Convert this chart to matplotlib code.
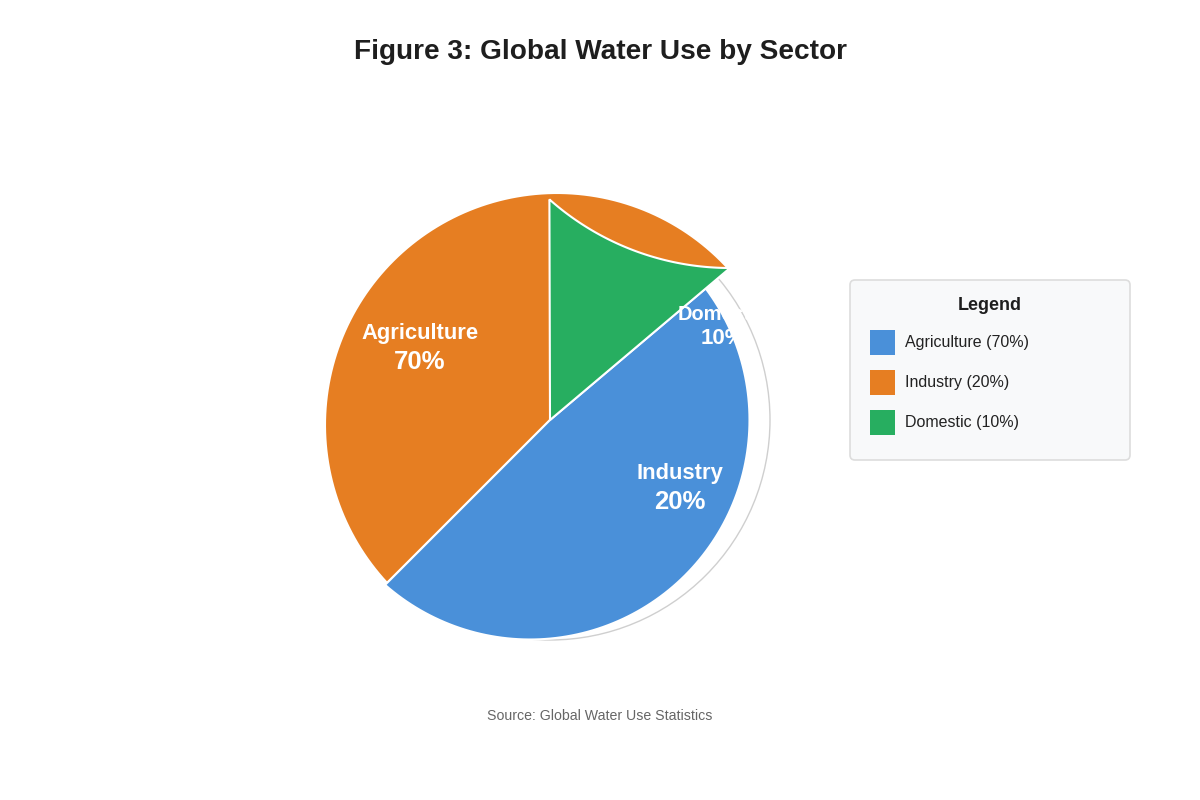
import numpy as np
import matplotlib
matplotlib.use("Agg")
import matplotlib.pyplot as plt
from matplotlib.patches import Polygon, Circle, FancyBboxPatch, Rectangle

plt.rcParams['font.family'] = ['Liberation Sans', 'DejaVu Sans']

# data
sectors = ["Agriculture", "Industry", "Domestic"]
shares = [70, 20, 10]
colors = ["#4a90d9", "#e67e22", "#27ae60"]

title = "Figure 3: Global Water Use by Sector"
source = "Source: Global Water Use Statistics"

# everything below is drawn in pixel space (y grows downwards)
fig = plt.figure(figsize=(12, 8), dpi=100)
ax = fig.add_axes([0, 0, 1, 1])
ax.set_xlim(0, 1200)
ax.set_ylim(800, 0)
ax.axis('off')

cx, cy = 550, 420   # pie centre
edge_ang = 40.2     # direction of the green/blue border


def arc(ox, oy, r, a0, a1, n=120):
    # screen angles in degrees, counter clockwise as seen on screen
    t = np.radians(np.linspace(a0, a1, n))
    return np.column_stack([ox + r * np.cos(t), oy - r * np.sin(t)])


# faint outline ring behind the slices
ax.add_patch(Circle((cx, cy), 220, fill=False, ec='#cfcfcf', lw=1.0, zorder=1))

# orange slice (upper left)
pts = np.vstack([[cx, cy], arc(557, 425, 232, 42.2, 222.9)])
ax.add_patch(Polygon(pts, closed=True, fc=colors[1], ec='white', lw=1.5, zorder=2))

# blue slice (lower right), its arc runs until it meets the green border
bx, by, br = 530, 420, 219.5
u = np.array([np.cos(np.radians(edge_ang)), -np.sin(np.radians(edge_ang))])
d = np.array([cx - bx, cy - by])
tt = -d @ u + np.sqrt((d @ u) ** 2 - d @ d + br ** 2)
hit = np.array([cx, cy]) + tt * u
end_ang = np.degrees(np.arctan2(by - hit[1], hit[0] - bx)) + 360
pts = np.vstack([[cx, cy], arc(bx, by, br, 228.7, end_ang)])
ax.add_patch(Polygon(pts, closed=True, fc=colors[0], ec='white', lw=1.5, zorder=3))

# green slice (top), with its odd inward arc
t = np.radians(np.linspace(131.6, 90, 120))
top = np.column_stack([730 + 272 * np.cos(t), -4 + 272 * np.sin(t)])
pts = np.vstack([[cx, cy], top])
ax.add_patch(Polygon(pts, closed=True, fc=colors[2], ec='white', lw=1.5,
                     joinstyle='miter', zorder=4))

# slice labels
lab_pos = [(420, 334, 362, 15.8, 18.5), (680, 474, 502, 15.8, 18.5), (723, 315, 339, 14.4, 16)]
for name, val, (x, y1, y2, fs1, fs2) in zip(sectors, shares, lab_pos):
    ax.text(x, y1, name, ha='center', va='center', color='white',
            fontsize=fs1, fontweight='bold', zorder=5)
    ax.text(x, y2, f"{val}%", ha='center', va='center', color='white',
            fontsize=fs2, fontweight='bold', zorder=5)

# title and source
ax.text(600, 52, title, ha='center', va='center', fontsize=20.2,
        fontweight='bold', color='#1e1e1e')
ax.text(600, 716, source, ha='center', va='center', fontsize=10.2, color='#666666')

# legend box
ax.add_patch(FancyBboxPatch((850, 280), 280, 180, boxstyle='round,pad=0,rounding_size=5',
                            fc='#f8f9fa', ec='#dddddd', lw=1.2))
ax.text(990, 305, "Legend", ha='center', va='center', fontsize=13,
        fontweight='bold', color='#1e1e1e')
for i, (name, val, c) in enumerate(zip(sectors, shares, colors)):
    y = 342.5 + 40 * i
    ax.add_patch(Rectangle((870, y - 12.5), 25, 25, fc=c, ec='none'))
    ax.text(905, y + 0.5, f"{name} ({val}%)", ha='left', va='center', fontsize=11.5,
            color='#222222')

fig.savefig("out.png", dpi=100, facecolor='white')
